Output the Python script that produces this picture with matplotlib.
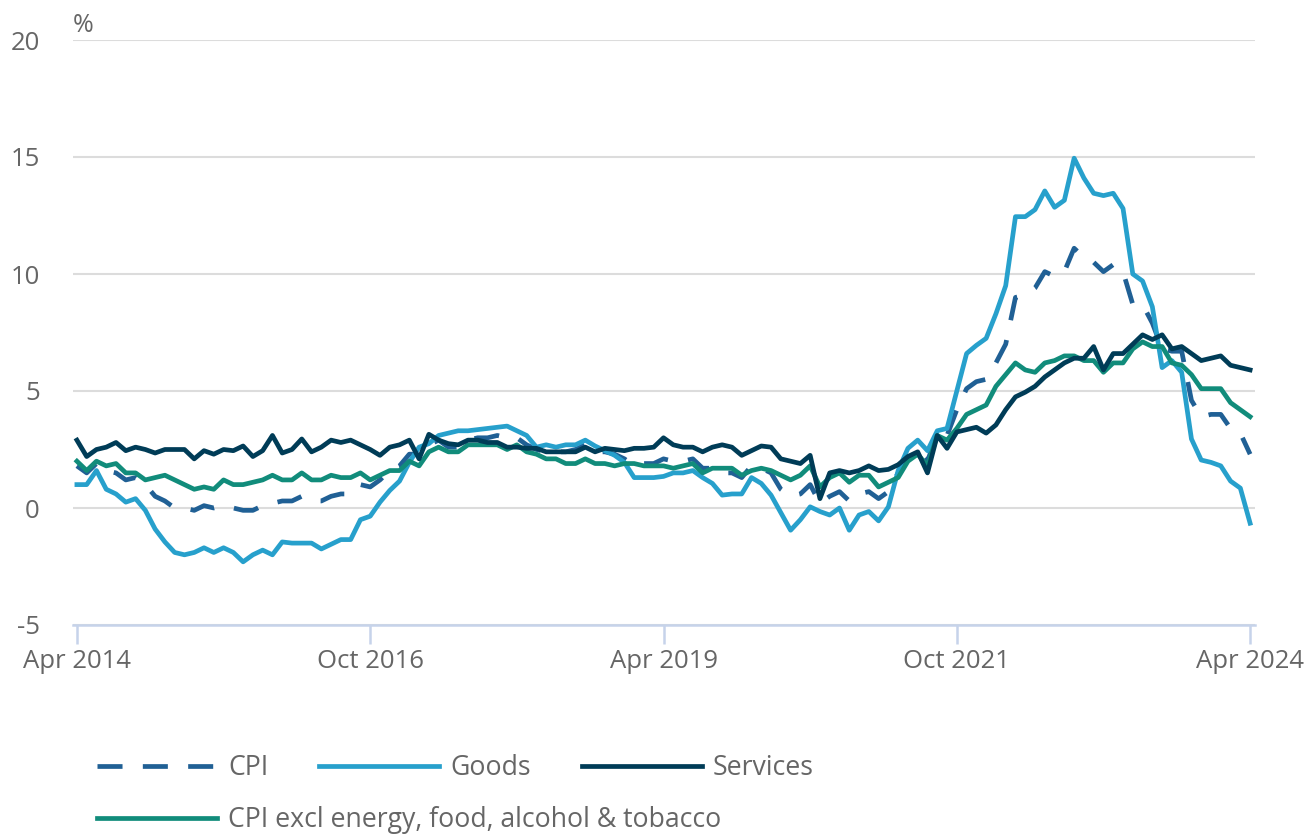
import matplotlib
matplotlib.use('Agg')
import matplotlib.pyplot as plt
import numpy as np
import pandas as pd

plt.rcParams['font.family'] = ['Open Sans', 'DejaVu Sans']
plt.rcParams['axes.unicode_minus'] = False

# monthly data, Apr 2014 - Apr 2024 (annual % change)
months = pd.date_range('2014-04-01', '2024-04-01', freq='MS')

cpi = [1.8, 1.5, 1.9, 1.6, 1.5, 1.2, 1.3, 1.0, 0.5,
       0.3, 0.0, 0.0, -0.1, 0.1, 0.0, 0.1, 0.0, -0.1, -0.1, 0.1, 0.2,
       0.3, 0.3, 0.5, 0.3, 0.3, 0.5, 0.6, 0.6, 1.0, 0.9, 1.2, 1.6,
       1.8, 2.3, 2.3, 2.7, 2.9, 2.6, 2.6, 2.9, 3.0, 3.0, 3.1, 3.0,
       3.0, 2.7, 2.5, 2.4, 2.4, 2.4, 2.5, 2.7, 2.4, 2.4, 2.3, 2.1,
       1.8, 1.9, 1.9, 2.1, 2.0, 2.0, 2.1, 1.7, 1.7, 1.5, 1.5, 1.3,
       1.8, 1.7, 1.5, 0.8, 0.5, 0.6, 1.0, 0.2, 0.5, 0.7, 0.3, 0.6,
       0.7, 0.4, 0.7, 1.5, 2.1, 2.5, 2.0, 3.2, 3.1, 4.2, 5.1, 5.4,
       5.5, 6.2, 7.0, 9.0, 9.1, 9.4, 10.1, 9.9, 10.1, 11.1, 10.7, 10.5,
       10.1, 10.4, 10.1, 8.7, 8.7, 7.9, 6.8, 6.7, 6.7, 4.6, 3.9, 4.0,
       4.0, 3.4, 3.2, 2.3]

goods = [1.0, 1.0, 1.6, 0.8, 0.6, 0.25, 0.4, -0.1, -0.9,
         -1.45, -1.9, -2.0, -1.9, -1.7, -1.9, -1.7, -1.9, -2.3, -2.0, -1.8, -2.0,
         -1.45, -1.5, -1.5, -1.5, -1.75, -1.55, -1.35, -1.35, -0.5, -0.35, 0.25, 0.75,
         1.15, 1.95, 2.6, 2.75, 3.1, 3.2, 3.3, 3.3, 3.35, 3.4, 3.45, 3.5,
         3.3, 3.1, 2.6, 2.7, 2.6, 2.7, 2.7, 2.9, 2.65, 2.45, 2.25, 1.95,
         1.3, 1.3, 1.3, 1.35, 1.5, 1.5, 1.6, 1.3, 1.05, 0.55, 0.6, 0.6,
         1.3, 1.05, 0.55, -0.2, -0.95, -0.5, 0.05, -0.15, -0.3, 0.0, -0.95, -0.3,
         -0.15, -0.55, 0.05, 1.6, 2.55, 2.9, 2.45, 3.3, 3.4, 5.0, 6.6, 6.95,
         7.25, 8.3, 9.5, 12.45, 12.45, 12.75, 13.55, 12.85, 13.15, 14.95, 14.1, 13.45,
         13.35, 13.45, 12.8, 10.0, 9.7, 8.6, 6.0, 6.3, 5.8, 2.95, 2.05, 1.95,
         1.8, 1.15, 0.85, -0.65]

services = [2.9, 2.2, 2.5, 2.6, 2.8, 2.45, 2.6, 2.5, 2.35,
            2.5, 2.5, 2.5, 2.1, 2.45, 2.3, 2.5, 2.45, 2.65, 2.2, 2.45, 3.1,
            2.35, 2.5, 2.95, 2.4, 2.6, 2.9, 2.8, 2.9, 2.7, 2.5, 2.25, 2.6,
            2.7, 2.9, 2.1, 3.15, 2.9, 2.75, 2.7, 2.9, 2.9, 2.8, 2.8, 2.6,
            2.6, 2.55, 2.55, 2.4, 2.4, 2.4, 2.4, 2.6, 2.4, 2.55, 2.5, 2.45,
            2.55, 2.55, 2.6, 3.0, 2.7, 2.6, 2.6, 2.4, 2.6, 2.7, 2.6, 2.25,
            2.45, 2.65, 2.6, 2.1, 2.0, 1.9, 2.25, 0.4, 1.5, 1.6, 1.5, 1.6,
            1.8, 1.6, 1.65, 1.85, 2.2, 2.4, 1.5, 3.1, 2.55, 3.25, 3.35, 3.45,
            3.2, 3.55, 4.2, 4.75, 4.95, 5.2, 5.6, 5.9, 6.2, 6.4, 6.4, 6.9,
            5.9, 6.6, 6.6, 7.0, 7.4, 7.2, 7.4, 6.8, 6.9, 6.6, 6.3, 6.4,
            6.5, 6.1, 6.0, 5.9]

core = [2.0, 1.6, 2.0, 1.8, 1.9, 1.5, 1.5, 1.2, 1.3,
        1.4, 1.2, 1.0, 0.8, 0.9, 0.8, 1.2, 1.0, 1.0, 1.1, 1.2, 1.4,
        1.2, 1.2, 1.5, 1.2, 1.2, 1.4, 1.3, 1.3, 1.5, 1.2, 1.4, 1.6,
        1.6, 2.0, 1.8, 2.4, 2.6, 2.4, 2.4, 2.7, 2.7, 2.7, 2.7, 2.5,
        2.7, 2.4, 2.3, 2.1, 2.1, 1.9, 1.9, 2.1, 1.9, 1.9, 1.8, 1.9,
        1.9, 1.8, 1.8, 1.8, 1.7, 1.8, 1.9, 1.5, 1.7, 1.7, 1.7, 1.4,
        1.6, 1.7, 1.6, 1.4, 1.2, 1.4, 1.8, 0.9, 1.3, 1.5, 1.1, 1.4,
        1.4, 0.9, 1.1, 1.3, 2.0, 2.3, 1.8, 3.1, 2.9, 3.4, 4.0, 4.2,
        4.4, 5.2, 5.7, 6.2, 5.9, 5.8, 6.2, 6.3, 6.5, 6.5, 6.3, 6.3,
        5.8, 6.2, 6.2, 6.8, 7.1, 6.9, 6.9, 6.2, 6.1, 5.7, 5.1, 5.1,
        5.1, 4.5, 4.2, 3.9]

tick_pos = [0, 30, 60, 90, 120]
tick_labels = ['Apr 2014', 'Oct 2016', 'Apr 2019', 'Oct 2021', 'Apr 2024']

x = np.arange(len(months))

fig = plt.figure(figsize=(13.04, 8.34), dpi=100)
ax = fig.add_axes([73 / 1304, 209 / 834, 1182 / 1304, 585 / 834])

grey = '#666666'
lw = 3.4
l_cpi, = ax.plot(x, cpi, color='#206095', lw=lw, dashes=(5.3, 4.3),
                 dash_capstyle='butt', label='CPI', zorder=3)
l_goods, = ax.plot(x, goods, color='#27a0cc', lw=lw, label='Goods', zorder=3)
l_serv, = ax.plot(x, services, color='#003c57', lw=lw, label='Services', zorder=4)
l_core, = ax.plot(x, core, color='#118c7b', lw=lw,
                  label='CPI excl energy, food, alcohol & tobacco', zorder=3)

ax.set_xlim(-0.4, 120.5)
ax.set_ylim(-5, 20)
ax.set_yticks([-5, 0, 5, 10, 15, 20])
ax.set_yticklabels(['-5', '0', '5', '10', '15', '20'])
ax.set_xticks(tick_pos)
ax.set_xticklabels(tick_labels)

ax.grid(axis='y', color='#dcdcdc', lw=1.5)
ax.set_axisbelow(True)
for s in ['top', 'right', 'left']:
    ax.spines[s].set_visible(False)
ax.spines['bottom'].set_color('#c6d3ea')
ax.spines['bottom'].set_linewidth(1.8)
ax.tick_params(axis='y', length=0, pad=24, labelsize=18.5, labelcolor=grey)
ax.tick_params(axis='x', length=14, width=1.8, color='#c6d3ea', pad=3,
               labelsize=18.5, labelcolor=grey)

fig.text(73 / 1304, 1 - 25 / 834, '%', fontsize=18, color=grey, va='center')

fig.legend(handles=[l_cpi, l_goods, l_serv], loc='center left',
           bbox_to_anchor=(97 / 1304, 1 - 768 / 834), ncol=3, frameon=False,
           fontsize=19.2, handlelength=4.5, handletextpad=0.42, columnspacing=1.9,
           borderpad=0, borderaxespad=0, labelcolor=grey)
fig.legend(handles=[l_core], loc='center left',
           bbox_to_anchor=(97 / 1304, 1 - 820 / 834), frameon=False,
           fontsize=19.2, handlelength=4.5, handletextpad=0.42,
           borderpad=0, borderaxespad=0, labelcolor=grey)

fig.savefig('out.png', dpi=100)
